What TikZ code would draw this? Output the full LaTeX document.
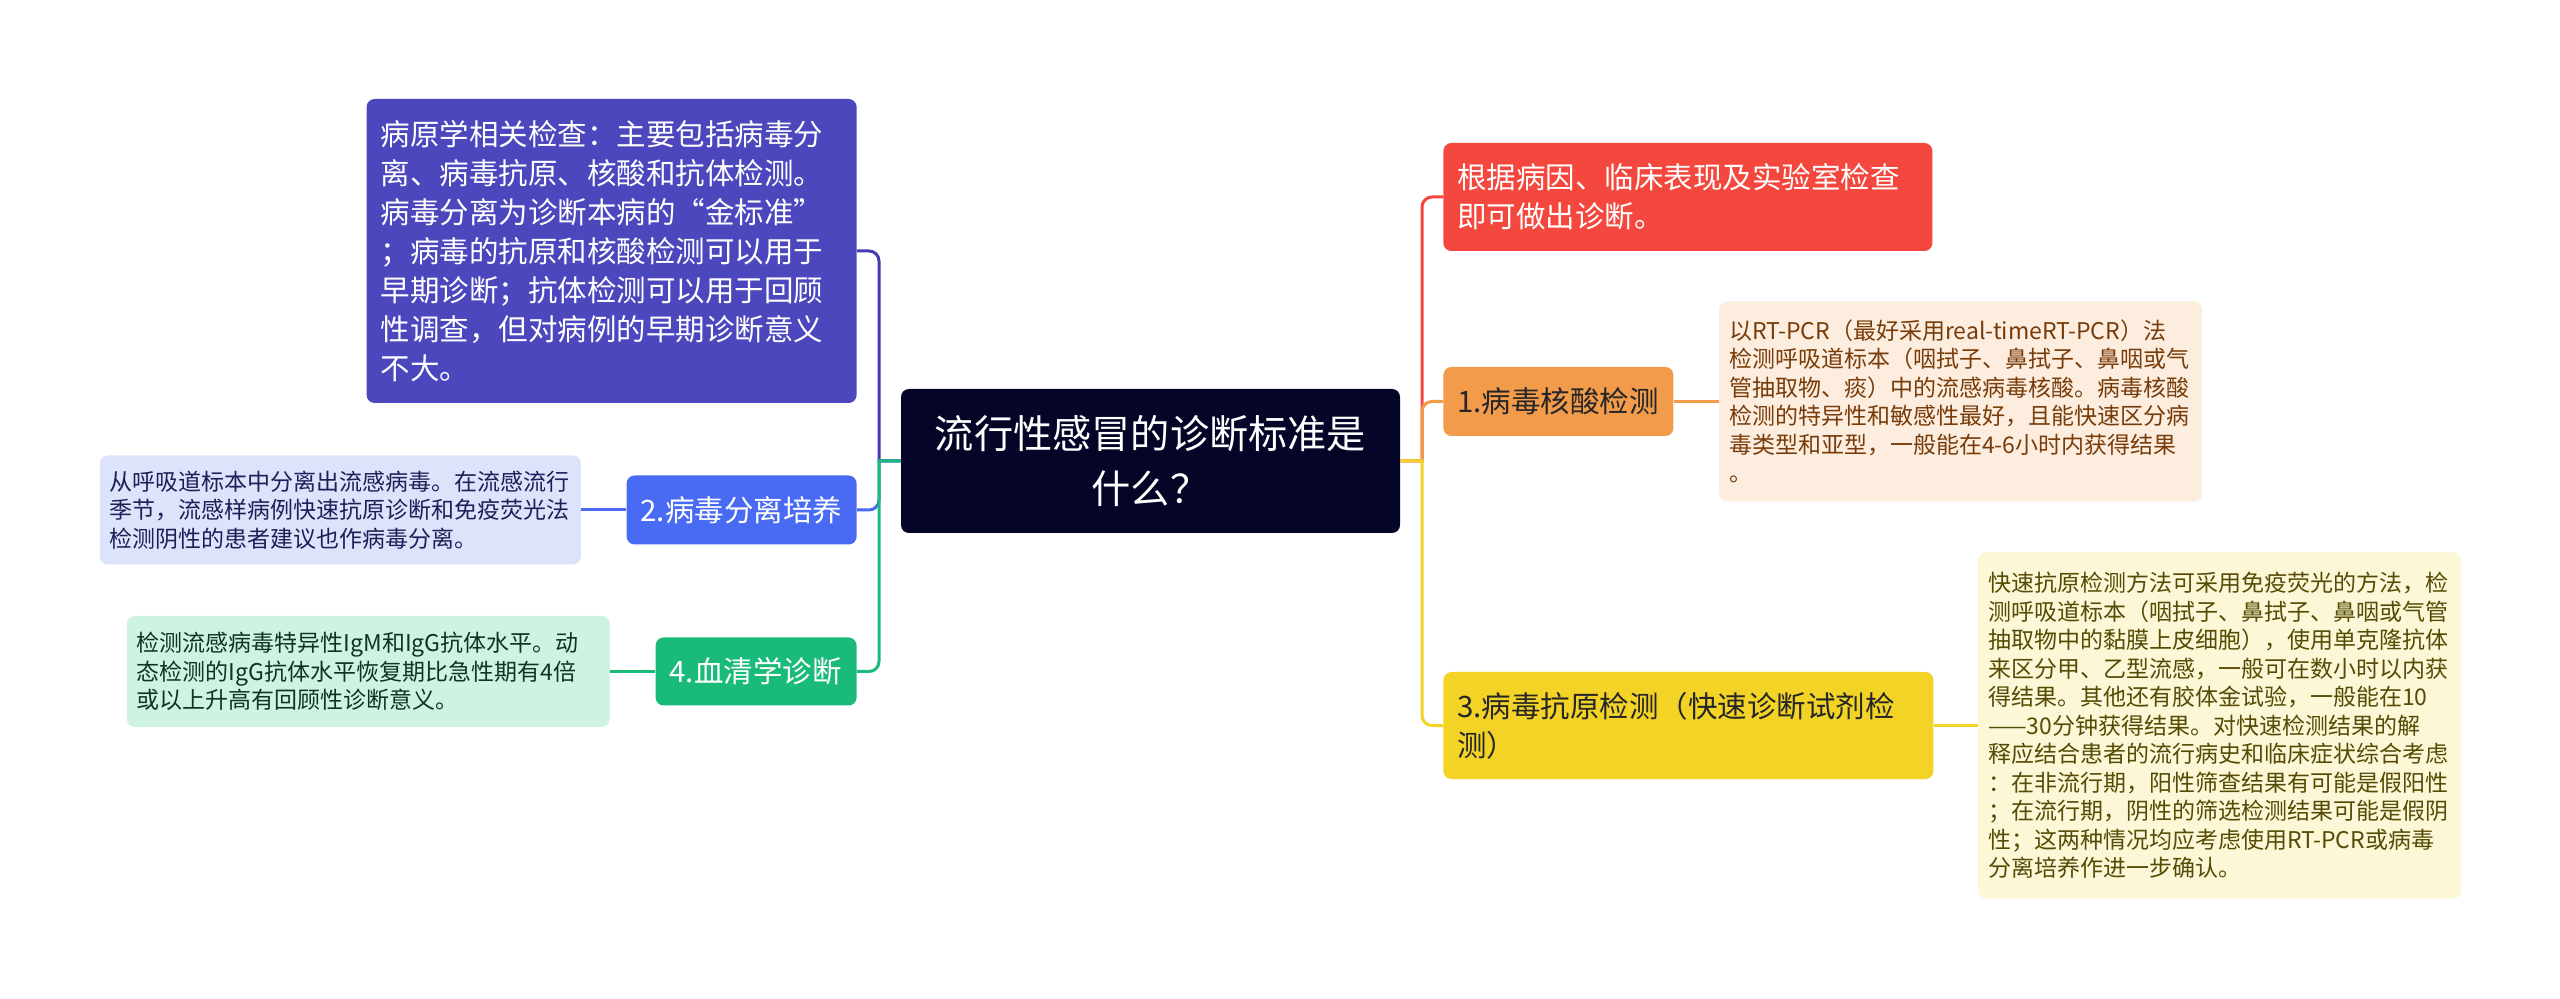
\documentclass[tikz,border=0pt]{standalone}
\usepackage{fontspec}
\newfontfamily\cjk{Noto Sans CJK SC}
\usepackage{xcolor}
\usepackage{tikz}
\usetikzlibrary{positioning}
\definecolor{rootbg}{RGB}{5,5,40}
\definecolor{pathbg}{RGB}{76,71,189}
\definecolor{pathline}{RGB}{66,60,176}
\definecolor{culturebg}{RGB}{73,107,243}
\definecolor{culturetxt}{RGB}{221,227,251}
\definecolor{culturefg}{RGB}{28,32,88}
\definecolor{serobg}{RGB}{26,187,122}
\definecolor{serotxt}{RGB}{206,243,227}
\definecolor{serofg}{RGB}{14,52,36}
\definecolor{basisbg}{RGB}{244,71,61}
\definecolor{nucleicbg}{RGB}{241,155,75}
\definecolor{nucleictxt}{RGB}{253,237,222}
\definecolor{nucleicfg}{RGB}{120,60,10}
\definecolor{antigenbg}{RGB}{242,211,38}
\definecolor{antigentxt}{RGB}{252,247,214}
\definecolor{antigenfg}{RGB}{85,75,5}
\begin{document}
\begin{tikzpicture}[
x=0.5pt,y=-0.5pt,
RootBox/.style={fill=rootbg,text=white,rounded corners=4pt,align=center,
  font=\cjk\fontsize{19.6pt}{27.5pt}\selectfont,inner sep=0pt,
  text width=249.5pt,minimum height=72pt},
BranchBox/.style={rounded corners=4pt,align=left,
  font=\cjk\fontsize{14.75pt}{19.5pt}\selectfont,inner xsep=7pt,inner ysep=0pt},
LeafBox/.style={rounded corners=4pt,align=left,
  font=\cjk\fontsize{11.5pt}{14.25pt}\selectfont,inner xsep=5pt,inner ysep=0pt},
Links/.style={line width=1.5pt}
]
\fill[white] (0,0) rectangle (2560,999);

\coordinate (LTrunk) at (879,461);
\coordinate (RTrunk) at (1422,461);

\node[RootBox] (Root) at (1150.5,461) {流行性感冒的诊断标准是\\什么？};

% left side
\node[BranchBox,fill=pathbg,text=white,anchor=east,text width=231pt,minimum height=152pt]
  (Path) at (857,251) {病原学相关检查：主要包括病毒分\\离、病毒抗原、核酸和抗体检测。\\病毒分离为诊断本病的“金标准”\\；病毒的抗原和核酸检测可以用于\\早期诊断；抗体检测可以用于回顾\\性调查，但对病例的早期诊断意义\\不大。};
\node[BranchBox,fill=culturebg,text=white,anchor=east,text width=101pt,minimum height=34.5pt]
  (Culture) at (857,510) {2.病毒分离培养};
\node[BranchBox,fill=serobg,text=white,anchor=east,text width=86.5pt,minimum height=34pt]
  (Sero) at (857,671.5) {4.血清学诊断};

\node[LeafBox,fill=culturetxt,text=culturefg,text width=230.5pt,minimum height=54.5pt,
  left=22.5pt of Culture] (CultureTxt) {从呼吸道标本中分离出流感病毒。在流感流行\\季节，流感样病例快速抗原诊断和免疫荧光法\\检测阴性的患者建议也作病毒分离。};
\node[LeafBox,fill=serotxt,text=serofg,text width=231.5pt,minimum height=55.5pt,
  left=22.5pt of Sero] (SeroTxt) {检测流感病毒特异性IgM和IgG抗体水平。动\\态检测的IgG抗体水平恢复期比急性期有4倍\\或以上升高有回顾性诊断意义。};

% right side
\node[BranchBox,fill=basisbg,text=white,anchor=west,text width=230.5pt,minimum height=54pt]
  (Basis) at (1443,197) {根据病因、临床表现及实验室检查\\即可做出诊断。};
\node[BranchBox,fill=nucleicbg,text=black!85,anchor=west,text width=101pt,minimum height=34.5pt]
  (Nucleic) at (1443,401.5) {1.病毒核酸检测};
\node[BranchBox,fill=antigenbg,text=black!85,anchor=west,text width=231pt,minimum height=53.5pt]
  (Antigen) at (1443,725.5) {3.病毒抗原检测（快速诊断试剂检\\测）};

\node[LeafBox,fill=nucleictxt,text=nucleicfg,text width=231.5pt,minimum height=100pt,
  right=22.5pt of Nucleic] (NucleicTxt) {以RT-PCR（最好采用real-timeRT-PCR）法\\检测呼吸道标本（咽拭子、鼻拭子、鼻咽或气\\管抽取物、痰）中的流感病毒核酸。病毒核酸\\检测的特异性和敏感性最好，且能快速区分病\\毒类型和亚型，一般能在4-6小时内获得结果\\。};
\node[LeafBox,fill=antigentxt,text=antigenfg,text width=231.5pt,minimum height=173pt,
  right=22pt of Antigen] (AntigenTxt) {快速抗原检测方法可采用免疫荧光的方法，检\\测呼吸道标本（咽拭子、鼻拭子、鼻咽或气管\\抽取物中的黏膜上皮细胞），使用单克隆抗体\\来区分甲、乙型流感，一般可在数小时以内获\\得结果。其他还有胶体金试验，一般能在10\\——30分钟获得结果。对快速检测结果的解\\释应结合患者的流行病史和临床症状综合考虑\\：在非流行期，阳性筛查结果有可能是假阳性\\；在流行期，阴性的筛选检测结果可能是假阴\\性；这两种情况均应考虑使用RT-PCR或病毒\\分离培养作进一步确认。};

% links
\draw[Links,pathline] (Root.west) -- (LTrunk) [rounded corners=5pt] |- (Path.east);
\draw[Links,culturebg] (Root.west) -- (LTrunk) [rounded corners=5pt] |- (Culture.east);
\draw[Links,serobg] (Root.west) -- (LTrunk) [rounded corners=5pt] |- (Sero.east);
\draw[Links,basisbg] (Root.east) -- (RTrunk) [rounded corners=5pt] |- (Basis.west);
\draw[Links,nucleicbg] (Root.east) -- (RTrunk) [rounded corners=5pt] |- (Nucleic.west);
\draw[Links,antigenbg] (Root.east) -- (RTrunk) [rounded corners=5pt] |- (Antigen.west);

\draw[Links,culturebg] (Culture.west) -- (CultureTxt.east);
\draw[Links,serobg] (Sero.west) -- (SeroTxt.east);
\draw[Links,nucleicbg] (Nucleic.east) -- (NucleicTxt.west);
\draw[Links,antigenbg] (Antigen.east) -- (AntigenTxt.west);

\end{tikzpicture}
\end{document}
